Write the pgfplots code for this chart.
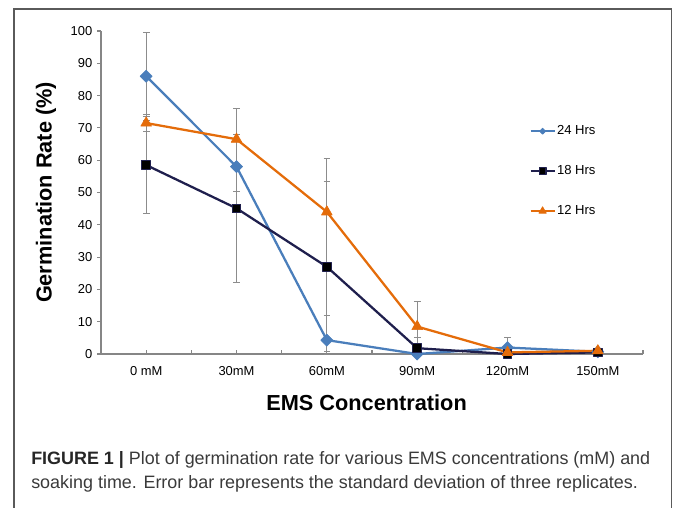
\documentclass[border=0pt]{standalone}
\usepackage{fontspec}
\setmainfont{Liberation Sans}
\usepackage{pgfplots}
\pgfplotsset{compat=1.18}
\usepackage{pgfplotstable}

\definecolor{c24}{HTML}{4A7EBB}
\definecolor{c18}{HTML}{1F1F4D}
\definecolor{c12}{HTML}{E46C0A}
\definecolor{axgray}{HTML}{868686}
\definecolor{errgray}{HTML}{8C8C8C}
\definecolor{capgray}{HTML}{3A3A3A}
\definecolor{framegray}{HTML}{5A5A5A}

% x = category index (0 mM ... 150mM), y = germination rate, ep/em = error
\pgfplotstableread{
x y ep em
0 86.0 13.6 13.6
1 58.0 7.7 7.7
2 4.3 7.5 4.3
3 0.0 0.0 0.0
4 2.0 3.0 2.0
5 0.7 0.5 0.5
}\tabA
\pgfplotstableread{
x y ep em
0 58.5 15.0 15.0
1 45.1 23.0 23.0
2 27.0 26.3 26.3
3 1.8 3.2 1.8
4 0.0 0.0 0.0
5 0.5 0.5 0.5
}\tabB
\pgfplotstableread{
x y ep em
0 71.5 2.7 2.7
1 66.5 9.5 9.5
2 44.0 16.6 16.6
3 8.5 7.7 7.7
4 0.5 0.5 0.5
5 1.0 0.7 0.7
}\tabC

\begin{document}
\begin{tikzpicture}
\path[use as bounding box] (0pt,0pt) rectangle (504.75pt,380.25pt);
\draw[framegray, line width=0.9pt] (10.5pt,-2pt) -- (10.5pt,373.5pt) -- (503.8pt,373.5pt) -- (503.8pt,-2pt);
\begin{axis}[
  at={(75.75pt,114.75pt)}, anchor=south west,
  scale only axis, width=406.5pt, height=242.25pt,
  xmin=-0.5, xmax=5.5, ymin=0, ymax=100,
  clip=false,
  axis x line*=bottom, axis y line*=left,
  axis line style={axgray, line width=0.9pt, -},
  xtick={0,...,5},
  xticklabels={0 mM,30mM,60mM,90mM,120mM,150mM},
  minor xtick={-0.5,0.5,...,5.5},
  ytick={0,10,...,100},
  tick align=inside,
  major tick length=3pt, minor tick length=3pt,
  tick style={axgray, line width=0.9pt},
  ytick style={xshift=-3pt},
  tick label style={font=\fontsize{9.7}{11}\selectfont, black},
  /pgf/number format/assume math mode=true,
  xticklabel style={yshift=-6pt},
  yticklabel style={xshift=-3pt},
  xlabel={EMS Concentration},
  ylabel={Germination Rate (\%)},
  label style={font=\bfseries\fontsize{16.3}{19}\selectfont},
  xlabel style={at={(axis description cs:0.49,-0.1517)}, anchor=center},
  ylabel style={at={(axis description cs:-0.1015,0.5)}, anchor=center},
  legend style={draw=none, fill=none, at={(0.79,0.712)}, anchor=north west,
    row sep=19.6pt, font=\fontsize{9.8}{11}\selectfont, inner sep=0pt,
    nodes={inner sep=1pt}},
  legend cell align=left,
  legend image code/.code={\draw[mark repeat=2,mark phase=2,#1] plot coordinates {(0pt,0pt) (9pt,0pt) (18pt,0pt)};},
  error bars/y dir=both, error bars/y explicit,
  error bars/error bar style={errgray, line width=0.6pt},
  error bars/error mark options={rotate=90, errgray, mark size=2.5pt, line width=0.6pt},
]
\addplot[c24, line width=1.7pt, line join=round, mark=square*, mark size=3.2pt,
  mark options={rotate=45, fill=c24, draw=c24, line width=0.5pt},
  legend image post style={every mark/.append style={scale=0.5}}]
  table[x=x, y=y, y error plus=ep, y error minus=em] {\tabA};
\addlegendentry{24 Hrs}
\addplot[c18, line width=1.7pt, line join=round, mark=square*, mark size=3.2pt,
  mark options={fill=black, draw=c18, line width=0.8pt},
  legend image post style={every mark/.append style={scale=0.8}}]
  table[x=x, y=y, y error plus=ep, y error minus=em] {\tabB};
\addlegendentry{18 Hrs}
\addplot[c12, line width=1.7pt, line join=round, mark=triangle*, mark size=4.6pt,
  mark options={fill=c12, draw=c12, line width=0.5pt},
  legend image post style={every mark/.append style={scale=0.7}}]
  table[x=x, y=y, y error plus=ep, y error minus=em] {\tabC};
\addlegendentry{12 Hrs}
\end{axis}
\node[anchor=base west, inner sep=0, font=\fontsize{13.45}{15}\selectfont, text=capgray] at (23.25pt,32.25pt)
  {{\color{black!85}\bfseries FIGURE 1 |} Plot of germination rate for various EMS concentrations (mM) and};
\node[anchor=base west, inner sep=0, font=\fontsize{13.45}{15}\selectfont, text=capgray] at (23.25pt,14.25pt)
  {soaking time. Error bar represents the standard deviation of three replicates.};
\end{tikzpicture}
\end{document}
